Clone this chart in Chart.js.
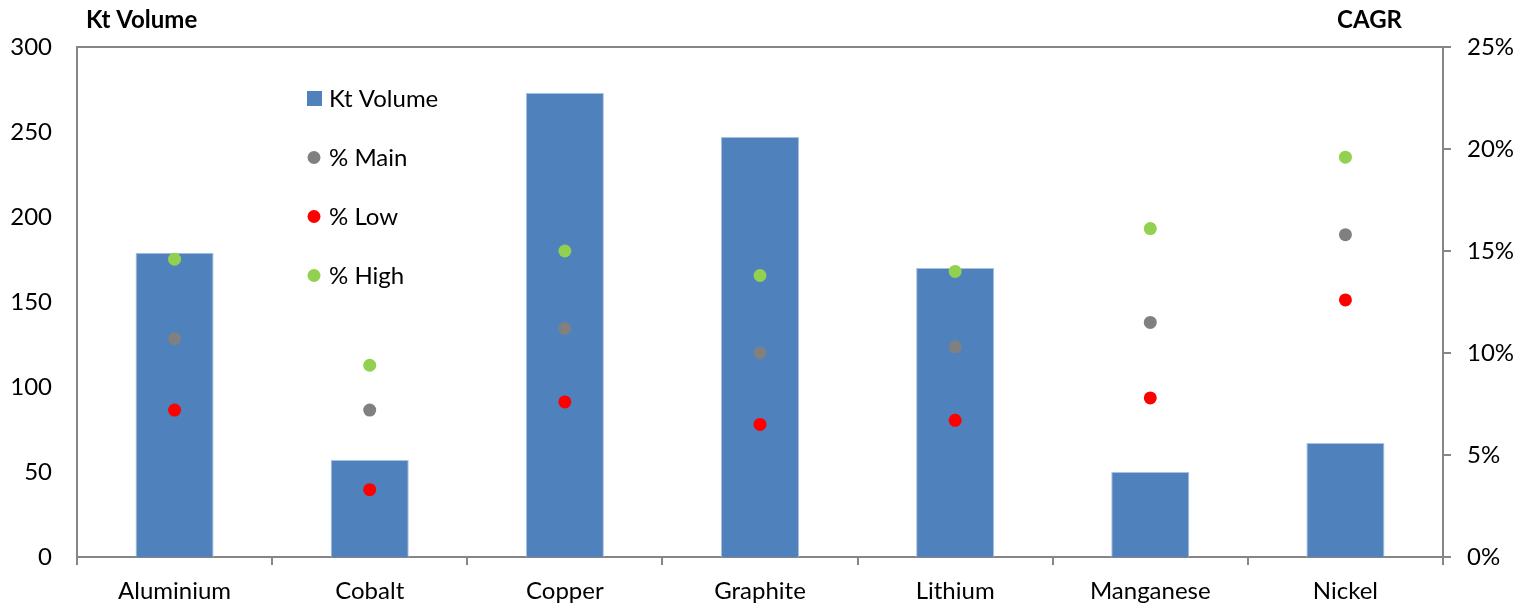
<!DOCTYPE html>
<html>
<head>
<meta charset="utf-8">
<title>Kt Volume and CAGR by metal</title>
<script src="https://cdn.jsdelivr.net/npm/chart.js@4.4.1/dist/chart.umd.min.js"></script>
<style>
  html, body { margin: 0; padding: 0; background: #ffffff; }
  #wrap { width: 1521px; height: 605px; position: relative; }
</style>
</head>
<body>
<div id="wrap"><canvas id="chart" width="1521" height="605"></canvas></div>
<script>
// Categories and series
const metals = ['Aluminium', 'Cobalt', 'Copper', 'Graphite', 'Lithium', 'Manganese', 'Nickel'];
const ktVolume = [179, 57, 273, 247, 170, 50, 67];
const cagrMain = [10.7, 7.2, 11.2, 10.0, 10.3, 11.5, 15.8];
const cagrLow  = [7.2, 3.3, 7.6, 6.5, 6.7, 7.8, 12.6];
const cagrHigh = [14.6, 9.4, 15.0, 13.8, 14.0, 16.1, 19.6];

// Axis tick values
const volumeTicks = [0, 50, 100, 150, 200, 250, 300];
const cagrTicks = [0, 5, 10, 15, 20, 25];

const AXIS_GREY = '#868686';
const FONT = 'Lato, "Open Sans", sans-serif';

// Legend drawn inside the plot area, stacked vertically
const innerLegend = {
  id: 'innerLegend',
  afterDatasetsDraw(chart) {
    const { ctx, chartArea } = chart;
    const mx = chartArea.left + 237;
    const tx = chartArea.left + 252;
    let y = chartArea.top + 51.5;
    ctx.save();
    ctx.font = '24px ' + FONT;
    ctx.textBaseline = 'middle';
    ctx.textAlign = 'left';
    chart.data.datasets.forEach(ds => {
      ctx.fillStyle = ds.backgroundColor;
      if (ds.type === 'bar' || !ds.type) {
        ctx.fillRect(mx - 7, y - 7.5, 15, 15);
      } else {
        ctx.beginPath();
        ctx.arc(mx, y, 6.5, 0, Math.PI * 2);
        ctx.fill();
      }
      ctx.fillStyle = '#000000';
      ctx.fillText(ds.label, tx, y + 1);
      y += 59;
    });
    ctx.restore();
  }
};

// Top frame line and the two axis captions
const frameAndCaptions = {
  id: 'frameAndCaptions',
  beforeDatasetsDraw(chart) {
    const { ctx, chartArea } = chart;
    ctx.save();
    ctx.strokeStyle = AXIS_GREY;
    ctx.lineWidth = 2;
    ctx.beginPath();
    ctx.moveTo(chartArea.left, chartArea.top);
    ctx.lineTo(chartArea.right, chartArea.top);
    ctx.stroke();
    ctx.restore();
  },
  afterDraw(chart) {
    const { ctx, chartArea } = chart;
    ctx.save();
    ctx.font = 'bold 24px ' + FONT;
    ctx.fillStyle = '#000000';
    ctx.textBaseline = 'middle';
    ctx.textAlign = 'left';
    ctx.fillText('Kt Volume', chartArea.left + 9, 20);
    ctx.textAlign = 'right';
    ctx.fillText('CAGR', chartArea.right - 41, 20);
    ctx.restore();
  }
};

const pointSet = (label, data, color) => ({
  type: 'line',
  label,
  data,
  yAxisID: 'y1',
  showLine: false,
  backgroundColor: color,
  borderColor: color,
  pointRadius: 6.5,
  pointHoverRadius: 6.5,
  pointBorderWidth: 0,
  order: 1
});

new Chart(document.getElementById('chart'), {
  type: 'bar',
  data: {
    labels: metals,
    datasets: [
      {
        type: 'bar',
        label: 'Kt Volume',
        data: ktVolume,
        yAxisID: 'y',
        backgroundColor: '#4F81BD',
        borderColor: '#A9C0DE',
        borderWidth: 1,
        barPercentage: 0.4,
        categoryPercentage: 1,
        order: 4
      },
      pointSet('% Main', cagrMain, '#808080'),
      pointSet('% Low', cagrLow, '#FF0000'),
      pointSet('% High', cagrHigh, '#92D050')
    ]
  },
  options: {
    responsive: false,
    animation: false,
    events: [],
    layout: { padding: { top: 47, left: 0, right: 0, bottom: 0 } },
    plugins: {
      legend: { display: false },
      tooltip: { enabled: false }
    },
    scales: {
      x: {
        offset: true,
        grid: {
          offset: true,
          drawOnChartArea: false,
          drawTicks: true,
          tickLength: 8,
          color: AXIS_GREY,
          lineWidth: 2
        },
        border: { display: true, color: AXIS_GREY, width: 2 },
        ticks: { color: '#000000', font: { family: FONT, size: 24 }, padding: 12, maxRotation: 0 },
        afterFit(scale) { scale.height = 48; }
      },
      y: {
        position: 'left',
        min: 0,
        max: 300,
        afterBuildTicks(scale) { scale.ticks = volumeTicks.map(v => ({ value: v })); },
        grid: { display: false, drawTicks: false },
        border: { display: true, color: AXIS_GREY, width: 2 },
        ticks: { color: '#000000', font: { family: FONT, size: 24 }, padding: 25 },
        afterFit(scale) { scale.width = 77; }
      },
      y1: {
        position: 'right',
        min: 0,
        max: 25,
        afterBuildTicks(scale) { scale.ticks = cagrTicks.map(v => ({ value: v })); },
        grid: {
          drawOnChartArea: false,
          drawTicks: true,
          tickLength: 8,
          color: AXIS_GREY,
          lineWidth: 2
        },
        border: { display: true, color: AXIS_GREY, width: 2 },
        ticks: {
          color: '#000000',
          font: { family: FONT, size: 24 },
          padding: 16,
          callback: v => v + '%'
        },
        afterFit(scale) { scale.width = 78; }
      }
    }
  },
  plugins: [frameAndCaptions, innerLegend]
});
</script>
</body>
</html>
